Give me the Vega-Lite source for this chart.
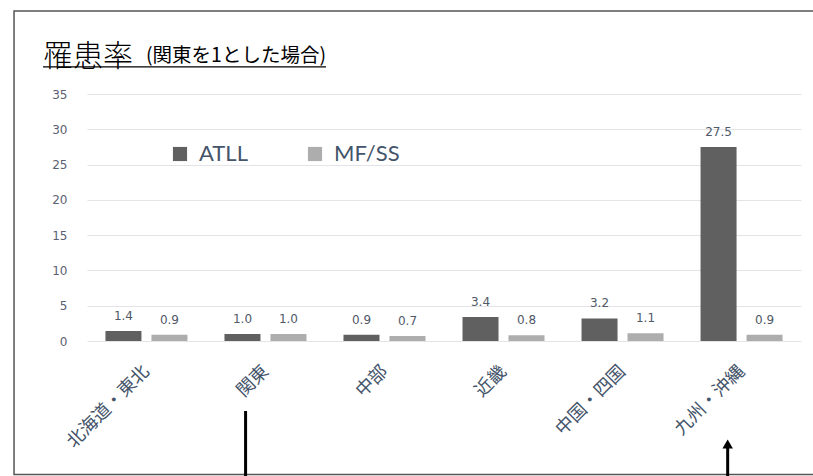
{
  "$schema": "https://vega.github.io/schema/vega-lite/v6.json",
  "width": 714,
  "height": 247,
  "autosize": {"type": "none"},
  "padding": {"left": 87, "top": 94, "right": 12, "bottom": 135},
  "background": "white",
  "config": {"view": {"stroke": null}, "font": "Noto Sans CJK JP"},
  "title": {
    "text": "罹患率",
    "anchor": "start",
    "frame": "group",
    "orient": "top",
    "dx": -44,
    "offset": -62,
    "font": "Noto Sans CJK JP",
    "fontSize": 30,
    "fontWeight": 300,
    "color": "#000000"
  },
  "resolve": {"scale": {"x": "independent", "y": "independent"}},
  "layer": [
    {
      "data": {"values": [{}]},
      "mark": {"type": "rect", "fill": "white", "fillOpacity": 0, "stroke": "#555555", "strokeWidth": 1.5},
      "encoding": {
        "x": {"datum": -0.1022, "type": "quantitative", "scale": {"domain": [0, 1]}, "axis": null},
        "x2": {"datum": 1.06},
        "y": {"datum": 46.76, "type": "quantitative", "scale": {"domain": [0, 35], "nice": false}, "axis": null},
        "y2": {"datum": -18.9}
      }
    },
    {
      "data": {"values": [{}]},
      "mark": {"type": "rule", "color": "#000000", "strokeWidth": 1.2},
      "encoding": {
        "x": {"datum": -0.0616, "type": "quantitative", "scale": {"domain": [0, 1]}, "axis": null},
        "x2": {"datum": 0.3347},
        "y": {"datum": 38.83, "type": "quantitative", "scale": {"domain": [0, 35], "nice": false}, "axis": null}
      }
    },
    {
      "data": {"values": [{"note": "(関東を1とした場合)"}]},
      "mark": {"type": "text", "align": "left", "baseline": "alphabetic", "font": "Noto Sans CJK JP", "fontSize": 19.5, "color": "#000000"},
      "encoding": {
        "x": {"datum": 0.0826, "type": "quantitative", "scale": {"domain": [0, 1]}, "axis": null},
        "y": {"datum": 39.5, "type": "quantitative", "scale": {"domain": [0, 35], "nice": false}, "axis": null},
        "text": {"field": "note"}
      }
    },
    {
      "data": {"values": [{}]},
      "mark": {"type": "rule", "color": "#000000", "strokeWidth": 3},
      "encoding": {
        "x": {"datum": 0.2221, "type": "quantitative", "scale": {"domain": [0, 1]}, "axis": null},
        "y": {"datum": -9.92, "type": "quantitative", "scale": {"domain": [0, 35], "nice": false}, "axis": null},
        "y2": {"datum": -20}
      }
    },
    {
      "data": {"values": [{}]},
      "mark": {"type": "rule", "color": "#000000", "strokeWidth": 3},
      "encoding": {
        "x": {"datum": 0.8973, "type": "quantitative", "scale": {"domain": [0, 1]}, "axis": null},
        "y": {"datum": -15.0, "type": "quantitative", "scale": {"domain": [0, 35], "nice": false}, "axis": null},
        "y2": {"datum": -20}
      }
    },
    {
      "data": {"values": [{}]},
      "mark": {"type": "point", "shape": "triangle-up", "filled": true, "size": 110, "color": "#000000", "opacity": 1},
      "encoding": {
        "x": {"datum": 0.8973, "type": "quantitative", "scale": {"domain": [0, 1]}, "axis": null},
        "y": {"datum": -14.6, "type": "quantitative", "scale": {"domain": [0, 35], "nice": false}, "axis": null}
      }
    },
    {
      "data": {
        "values": [
          {"region": "北海道・東北", "series": "ATLL", "value": 1.4},
          {"region": "北海道・東北", "series": "MF/SS", "value": 0.9},
          {"region": "関東", "series": "ATLL", "value": 1.0},
          {"region": "関東", "series": "MF/SS", "value": 1.0},
          {"region": "中部", "series": "ATLL", "value": 0.9},
          {"region": "中部", "series": "MF/SS", "value": 0.7},
          {"region": "近畿", "series": "ATLL", "value": 3.4},
          {"region": "近畿", "series": "MF/SS", "value": 0.8},
          {"region": "中国・四国", "series": "ATLL", "value": 3.2},
          {"region": "中国・四国", "series": "MF/SS", "value": 1.1},
          {"region": "九州・沖縄", "series": "ATLL", "value": 27.5},
          {"region": "九州・沖縄", "series": "MF/SS", "value": 0.9}
        ]
      },
      "encoding": {
        "x": {
          "field": "region",
          "type": "nominal",
          "sort": ["北海道・東北", "関東", "中部", "近畿", "中国・四国", "九州・沖縄"],
          "scale": {"paddingInner": 0.311, "paddingOuter": 0.155},
          "axis": {
            "title": null,
            "labelAngle": -45,
            "labelFont": "Noto Sans CJK JP",
            "labelFontSize": 18,
            "labelColor": "#44546A",
            "labelPadding": 21,
            "labelOffset": -6,
            "domain": false,
            "ticks": false,
            "grid": false
          }
        },
        "xOffset": {"field": "series", "sort": ["ATLL", "MF/SS"], "scale": {"paddingInner": 0.217}},
        "y": {
          "field": "value",
          "type": "quantitative",
          "scale": {"domain": [0, 35], "nice": false},
          "axis": {
            "title": null,
            "values": [0, 5, 10, 15, 20, 25, 30, 35],
            "grid": true,
            "domain": false,
            "ticks": false,
            "labelPadding": 20,
            "labelFont": "DejaVu Sans",
            "labelFontSize": 12,
            "labelColor": "#5A6070",
            "gridColor": "#E3E3E8",
            "gridWidth": 1
          }
        }
      },
      "layer": [
        {
          "mark": {"type": "bar"},
          "encoding": {
            "color": {
              "field": "series",
              "type": "nominal",
              "scale": {"domain": ["ATLL", "MF/SS"], "range": ["#606060", "#ADADAD"]},
              "legend": {
                "orient": "none",
                "legendX": 82,
                "legendY": 49,
                "direction": "horizontal",
                "title": null,
                "symbolType": "square",
                "symbolSize": 200,
                "symbolStrokeWidth": 0,
                "labelFont": "Lato",
                "labelFontSize": 22,
                "labelColor": "#44546A",
                "labelOffset": 8,
                "columnPadding": 56,
                "padding": 0
              }
            }
          }
        },
        {
          "mark": {"type": "text", "baseline": "bottom", "dy": -8, "font": "DejaVu Sans", "fontSize": 12, "color": "#505868"},
          "encoding": {
            "text": {"field": "value", "type": "quantitative", "format": ".1f"}
          }
        }
      ]
    }
  ]
}
